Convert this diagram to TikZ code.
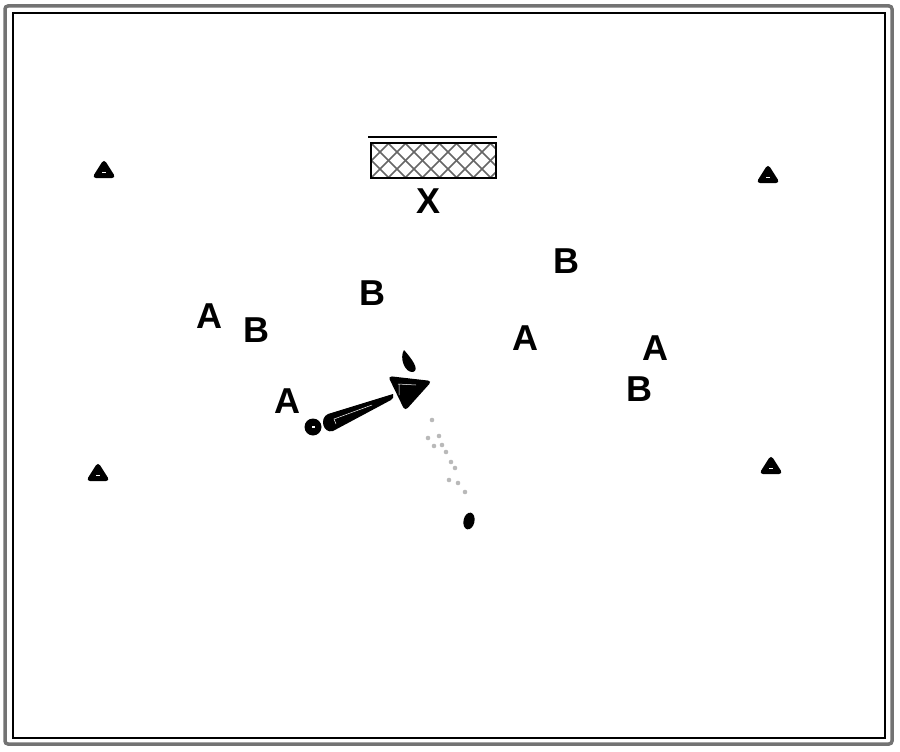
\documentclass[tikz,border=0pt]{standalone}
\usepackage{fontspec}
\setmainfont{Liberation Sans}
\usetikzlibrary{calc}
\tikzset{
  player/.style={font=\fontsize{36}{36}\selectfont\bfseries, inner sep=0pt, text=black},
  cone/.pic={
    \fill[black, rounded corners=4pt] (-12,9) -- (0,-10) -- (12,9) -- cycle;
    \fill[white] (-2,2.5) rectangle (2,4);
  },
  trail/.style={fill=gray!55},
}
\begin{document}
\begin{tikzpicture}[x=1pt,y=-1pt]
\useasboundingbox (0,0) rectangle (900,752);
% frame
\draw[black!55, line width=3.5pt, rounded corners=3pt] (5,6) rectangle (892,744);
\draw[black, line width=1.1pt] (13,13) rectangle (885,738);

% goal bar
\draw[black, line width=1.8pt] (368,137) -- (497,137);
\node[draw=black, line width=2.6pt, minimum width=125pt, minimum height=35pt, inner sep=0pt,
  path picture={
    \fill[white] (path picture bounding box.south west) rectangle (path picture bounding box.north east);
    \foreach \i in {0,...,10} {
      \draw[black!60, line width=1.6pt] ($(path picture bounding box.north west)+(-34+\i*17,0)$) -- ++(35,35);
      \draw[black!60, line width=1.6pt] ($(path picture bounding box.north west)+(1+\i*17,0)$) -- ++(-35,35);
    }
  }] (bar) at (433.5,160.5) {};
\node[player] (x) at (429,201) {X};

% cones
\pic at (104,169) {cone};
\pic at (768,174) {cone};
\pic at (98,472) {cone};
\pic at (771,465) {cone};

% players
\node[player] (a1) at (209,316) {A};
\node[player] (b1) at (256,330) {B};
\node[player] (b2) at (372,293) {B};
\node[player] (a2) at (287,401) {A};
\node[player] (b3) at (566,261) {B};
\node[player] (a3) at (525,338) {A};
\node[player] (a4) at (655,348) {A};
\node[player] (b4) at (639,389) {B};

% ball
\fill[black] (313,427) circle[radius=8.5pt];
\fill[white] (311.5,426) rectangle (314.5,428);
% wedge
\fill[black] (393,394) .. controls (394,397) and (393,399) .. (391,400) -- (333,431) .. controls (323,434) and (319,418) .. (328,414) -- cycle;
\draw[white, line width=0.5pt] (372,405) -- (334,419) -- (336,424);
% big triangle
\fill[black, rounded corners=4pt] (388,376) -- (432,381) -- (405,411) -- cycle;
\draw[white, line width=0.5pt] (398,384) -- (416,385) (399,384) -- (399,395);
% small drop above
\fill[black] (404,350) .. controls (399,358) and (405,373) .. (413,372) .. controls (420,370) and (412,359) .. (404,350);
% trail
\foreach \p in {(432,420),(439,436),(428,438),(434,446),(446,452),(451,462),(449,480),(458,483),(465,492),(455,468),(442,445)}
  \fill[trail] \p circle[radius=2.3pt];
% bottom ball
\fill[black, rotate around={-12:(469,521)}] (469,521) ellipse[x radius=5.5pt, y radius=8.5pt];
\end{tikzpicture}
\end{document}
